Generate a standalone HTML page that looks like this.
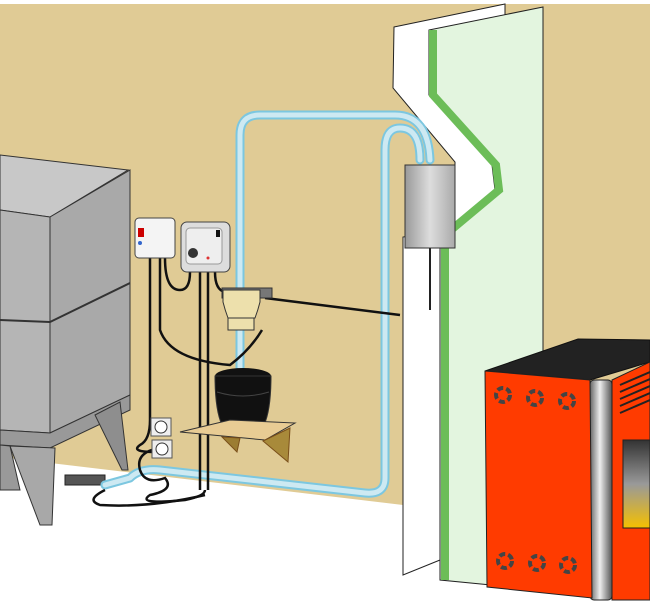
<!DOCTYPE html>
<html><head><meta charset="utf-8"><style>html,body{margin:0;padding:0;background:#fff}svg{display:block}</style></head>
<body>
<svg width="650" height="611" viewBox="0 0 650 611" xmlns="http://www.w3.org/2000/svg">
<defs>
<linearGradient id="met" x1="0" x2="1"><stop offset="0" stop-color="#666"/><stop offset=".45" stop-color="#eee"/><stop offset="1" stop-color="#555"/></linearGradient>
<linearGradient id="fire" x1="0" y1="0" x2="0" y2="1"><stop offset="0" stop-color="#333"/><stop offset=".5" stop-color="#999"/><stop offset="1" stop-color="#f5c000"/></linearGradient>
<linearGradient id="box" x1="0" x2="1"><stop offset="0" stop-color="#999"/><stop offset=".5" stop-color="#ddd"/><stop offset="1" stop-color="#aaa"/></linearGradient>
</defs>
<!-- wall -->
<polygon points="0,4 650,4 650,535 403,505 0,457" fill="#E0CB95"/>
<!-- tank -->
<polygon points="0,155 128,170 50,217 0,210" fill="#c8c8c8" stroke="#333"/>
<polygon points="0,210 50,217 50,433 0,430" fill="#b5b5b5" stroke="#333"/>
<polygon points="50,217 130,170 130,395 50,433" fill="#a9a9a9" stroke="#333"/>
<line x1="0" y1="320" x2="50" y2="322" stroke="#333" stroke-width="2"/>
<line x1="50" y1="322" x2="130" y2="283" stroke="#333" stroke-width="2"/>
<polygon points="0,430 50,433 130,395 130,410 50,448 0,445" fill="#999" stroke="#333"/>
<polygon points="10,446 55,448 52,525 40,525" fill="#a8a8a8" stroke="#333"/>
<polygon points="95,415 120,402 128,470 122,470" fill="#8e8e8e" stroke="#333"/>
<polygon points="0,445 10,446 20,490 0,490" fill="#999" stroke="#333"/>
<!-- hose fitting -->
<rect x="65" y="475" width="40" height="10" fill="#555" stroke="#222"/>
<!-- panels -->
<polygon points="394,27 505,4 505,250 440,250 440,560 403,575 403,237 455,230 455,162 393,88" fill="#fff" stroke="#222"/>
<polygon points="429,30 543,7 543,590 440,580 440,235 495,190 492,165 429,95" fill="#E3F5DF" stroke="#222"/>
<polyline points="433,30 433,95 496,165 499,190 445,235 445,580" fill="none" stroke="#6CBD58" stroke-width="8"/>
<!-- blue tubes -->
<g fill="none" stroke-linecap="round" stroke-linejoin="round">
<path d="M240,330 V135 Q240,115 260,115 H395 Q428,115 430,160" stroke="#7cc7e0" stroke-width="9"/>
<path d="M240,330 V135 Q240,115 260,115 H395 Q428,115 430,160" stroke="#cde9f2" stroke-width="5"/>
<path d="M420,160 Q420,128 400,128 Q385,128 385,150 V478 Q385,495 365,493 L160,470 Q140,468 130,478 L105,485" stroke="#7cc7e0" stroke-width="9"/>
<path d="M420,160 Q420,128 400,128 Q385,128 385,150 V478 Q385,495 365,493 L160,470 Q140,468 130,478 L105,485" stroke="#cde9f2" stroke-width="5"/>
<path d="M240,330 V372" stroke="#7cc7e0" stroke-width="9"/><path d="M240,330 V372" stroke="#cde9f2" stroke-width="5"/>
</g>
<!-- box on panel -->
<rect x="405" y="165" width="50" height="83" fill="url(#box)" stroke="#333"/>
<line x1="430" y1="248" x2="430" y2="310" stroke="#222" stroke-width="2"/>
<!-- wires -->
<g fill="none" stroke="#111" stroke-width="2.5">
<path d="M150,258 V420 Q150,440 140,445 Q130,452 155,452"/>
<path d="M160,258 V330 Q170,360 230,365 Q250,350 262,330"/>
<path d="M165,258 Q165,290 180,290 Q190,290 190,272"/>
<path d="M200,272 V490"/>
<path d="M208,272 V490"/>
<path d="M215,272 Q215,290 225,292"/>
<path d="M265,298 L400,315"/>
<path d="M160,448 Q135,452 140,470 Q145,485 165,478 Q175,490 150,495 Q135,505 185,500 Q205,496 205,490"/>
<path d="M105,490 Q85,500 100,505 Q150,508 205,495"/>
</g>
<!-- control boxes -->
<rect x="135" y="218" width="40" height="40" rx="4" fill="#f4f4f4" stroke="#444"/>
<rect x="138" y="228" width="6" height="9" fill="#c00"/>
<circle cx="140" cy="243" r="2" fill="#36c"/>
<rect x="181" y="222" width="49" height="50" rx="6" fill="#ddd" stroke="#444"/>
<rect x="186" y="228" width="36" height="36" rx="4" fill="#eee" stroke="#999"/>
<circle cx="193" cy="253" r="5" fill="#333"/>
<rect x="216" y="230" width="4" height="7" fill="#111"/>
<circle cx="208" cy="258" r="1.5" fill="#d33"/>
<!-- pump -->
<rect x="222" y="288" width="50" height="10" fill="#777" stroke="#333"/>
<path d="M223,290 H260 V302 Q258,310 255,318 H228 Q225,310 223,302Z" fill="#EDE0AC" stroke="#333"/>
<rect x="228" y="318" width="26" height="12" fill="#EDE0AC" stroke="#333"/>
<!-- pot -->
<ellipse cx="243" cy="376" rx="28" ry="8" fill="#111"/>
<path d="M215,376 Q215,410 222,425 Q243,435 264,425 Q271,410 271,376Z" fill="#111" stroke="#333"/>
<path d="M217,392 Q243,400 269,392" stroke="#444" fill="none"/>
<!-- shelf -->
<polygon points="230,420 295,423 265,440 180,432" fill="#E8CC94" stroke="#333"/>
<polygon points="222,437 240,438 237,452" fill="#9c7d32" stroke="#7a4f1a"/>
<polygon points="263,441 290,428 288,462" fill="#a88a3a" stroke="#7a4f1a"/>
<!-- outlets -->
<rect x="151" y="418" width="20" height="18" fill="#eee" stroke="#555"/>
<circle cx="161" cy="427" r="6" fill="#fff" stroke="#333"/>
<rect x="152" y="440" width="20" height="18" fill="#eee" stroke="#555"/>
<circle cx="162" cy="449" r="6" fill="#fff" stroke="#333"/>
<!-- stove -->
<polygon points="485,371 578,339 650,340 650,362 590,380" fill="#222" stroke="#111"/>
<polygon points="612,380 650,362 650,600 612,600" fill="#ff3b00" stroke="#222"/>
<rect x="623" y="440" width="27" height="88" fill="url(#fire)" stroke="#222"/>
<g stroke="#222" stroke-width="2"><line x1="620" y1="385" x2="650" y2="372"/><line x1="620" y1="392" x2="650" y2="379"/><line x1="620" y1="399" x2="650" y2="386"/><line x1="620" y1="406" x2="650" y2="393"/><line x1="620" y1="413" x2="650" y2="400"/></g>
<rect x="590" y="380" width="22" height="220" rx="4" fill="url(#met)" stroke="#222"/>
<polygon points="485,371 590,380 592,598 487,587" fill="#ff3b00" stroke="#222"/>
<g fill="none" stroke="#444" stroke-width="4" stroke-dasharray="6 3">
<circle cx="503" cy="395" r="7"/><circle cx="535" cy="398" r="7"/><circle cx="567" cy="401" r="7"/>
<circle cx="505" cy="561" r="7"/><circle cx="537" cy="563" r="7"/><circle cx="568" cy="565" r="7"/>
</g>
</svg>
</body></html>
